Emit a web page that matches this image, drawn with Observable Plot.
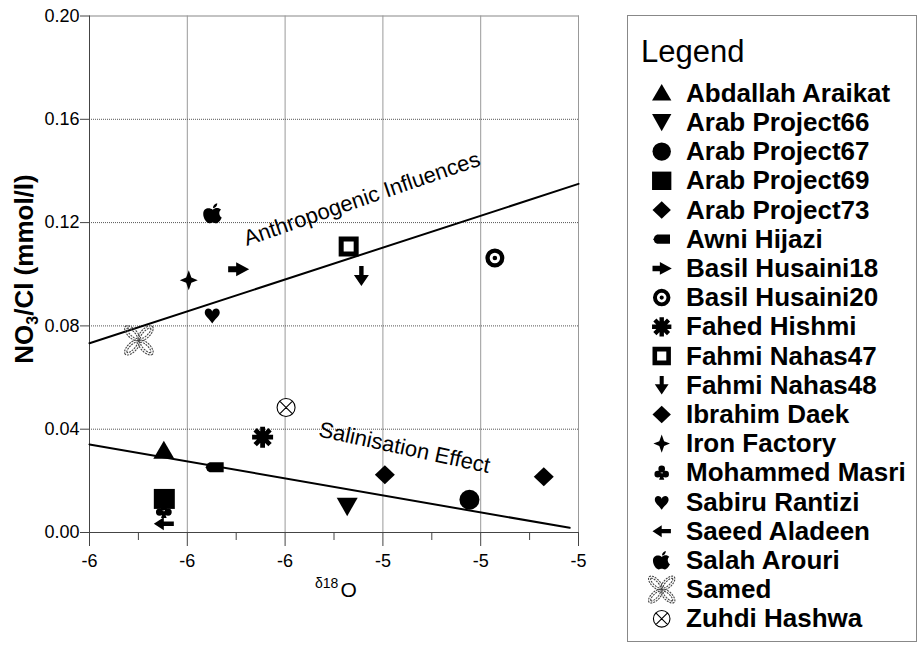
<!DOCTYPE html>
<html>
<head>
<meta charset="utf-8">
<script src="https://cdn.jsdelivr.net/npm/d3@7"></script>
<script src="https://cdn.jsdelivr.net/npm/@observablehq/plot@0.6"></script>
<style>
  body { margin: 0; background: #fff; font-family: "Liberation Sans", Arial, sans-serif; }
  #wrap { position: relative; width: 919px; height: 645px; background: #fff; }
  #chart, #legend { position: absolute; left: 0; top: 0; }
</style>
</head>
<body>
<div id="wrap"><div id="chart"></div><svg id="legend" width="919" height="645"></svg></div>
<script>
// Sampled wells
const wells = [
  "Abdallah Araikat", "Arab Project66", "Arab Project67", "Arab Project69", "Arab Project73",
  "Awni Hijazi", "Basil Husaini18", "Basil Husaini20", "Fahed Hishmi", "Fahmi Nahas47",
  "Fahmi Nahas48", "Ibrahim Daek", "Iron Factory", "Mohammed Masri", "Sabiru Rantizi",
  "Saeed Aladeen", "Salah Arouri", "Samed", "Zuhdi Hashwa"
];
// δ18O (‰)
const delta18O = [
  -5.848, -5.473, -5.223, -5.847, -5.396,
  -5.744, -5.696, -5.171, -5.646, -5.470,
  -5.444, -5.071, -5.797, -5.848, -5.749,
  -5.848, -5.748, -5.899, -5.598
];
// NO3/Cl (mmol/l)
const no3Cl = [
  0.0317, 0.0100, 0.0127, 0.0130, 0.0224,
  0.0253, 0.1019, 0.1063, 0.0369, 0.1107,
  0.0993, 0.0216, 0.0977, 0.0085, 0.0842,
  0.0034, 0.1235, 0.0744, 0.0484
];

// Trend lines
const trendNames = ["Anthropogenic Influences", "Salinisation Effect"];
const anthroX = [-6.0, -5.0];
const anthroY = [0.0733, 0.1350];
const salinX = [-6.0, -5.018];
const salinY = [0.0341, 0.0018];
// label anchors along each trend line
const trendLabelX = [-5.443, -5.356];
const trendLabelY = [0.1292, 0.0328];

// Axis ticks
const xMajorTicks = [-6.0, -5.8, -5.6, -5.4, -5.2, -5.0];
const xMinorTicks = [-5.9, -5.7, -5.5, -5.3, -5.1];
const yTicks = [0, 0.04, 0.08, 0.12, 0.16, 0.20];

// ---- marker shapes (drawn in a 10-unit box, scaled by the symbol size) ----
function sym(fn) {
  return { draw(ctx, size) { const k = Math.sqrt(size / Math.PI) / 10; fn(ctx, k); } };
}
function polygon(c, k, pts) {
  c.moveTo(pts[0][0] * k, pts[0][1] * k);
  for (let i = 1; i < pts.length; ++i) c.lineTo(pts[i][0] * k, pts[i][1] * k);
  c.closePath();
}
function ring(c, k, cx, cy, r, ccw = false) {
  c.moveTo((cx + r) * k, cy * k);
  c.arc(cx * k, cy * k, r * k, 0, 2 * Math.PI, ccw);
}
function pen(c, k) {
  return {
    M: (x, y) => c.moveTo(x * k, y * k),
    C: (a, b, d, e, f, g) => c.bezierCurveTo(a * k, b * k, d * k, e * k, f * k, g * k),
    Z: () => c.closePath()
  };
}
function ellipsePts(cx, cy, a, b, phi, n = 28) {
  const pts = [];
  for (let i = 0; i < n; ++i) {
    const t = (i / n) * 2 * Math.PI;
    pts.push([
      cx + a * Math.cos(t) * Math.cos(phi) - b * Math.sin(t) * Math.sin(phi),
      cy + a * Math.cos(t) * Math.sin(phi) + b * Math.sin(t) * Math.cos(phi)
    ]);
  }
  return pts;
}

const shapes = {
  triangleUp: sym((c, k) => polygon(c, k, [[0, -10], [10.5, 8], [-10.5, 8]])),
  triangleDown: sym((c, k) => polygon(c, k, [[-10.5, -9], [10.5, -9], [0, 9.5]])),
  disc: sym((c, k) => ring(c, k, 0, 0, 10)),
  square: sym((c, k) => polygon(c, k, [[-10.5, -10], [10.5, -10], [10.5, 10], [-10.5, 10]])),
  diamond: sym((c, k) => polygon(c, k, [[0, -9.5], [10, 0], [0, 9.5], [-10, 0]])),
  tag: sym((c, k) => polygon(c, k, [[-9, 0], [-7.5, -3.5], [-5, -5], [9, -5], [9, 5], [-5, 5], [-7.5, 3.5]])),
  arrowRight: sym((c, k) => polygon(c, k, [[-10, -3], [-2, -3], [-2, -7], [11, 0], [-2, 7], [-2, 3], [-10, 3]])),
  arrowLeft: sym((c, k) => polygon(c, k, [[10, -2.3], [0, -2.3], [0, -6.5], [-10, 0], [0, 6.5], [0, 2.3], [10, 2.3]])),
  arrowDown: sym((c, k) => polygon(c, k, [[-2.2, -10], [2.2, -10], [2.2, -1], [7.5, -1], [0, 10], [-7.5, -1], [-2.2, -1]])),
  bullseye: sym((c, k) => { ring(c, k, 0, 0, 9.5); ring(c, k, 0, 0, 5.2, true); ring(c, k, 0, 0, 2.3); }),
  asterisk: sym((c, k) => {
    for (const deg of [0, 45, 90, 135]) {
      const t = deg * Math.PI / 180, cs = Math.cos(t), sn = Math.sin(t);
      polygon(c, k, [[-10.5, -2.4], [10.5, -2.4], [10.5, 2.4], [-10.5, 2.4]]
        .map(([x, y]) => [x * cs - y * sn, x * sn + y * cs]));
    }
  }),
  openSquare: sym((c, k) => {
    polygon(c, k, [[-10, -10], [10, -10], [10, 10], [-10, 10]]);
    polygon(c, k, [[-5, -5], [-5, 5], [5, 5], [5, -5]]);
  }),
  star4: sym((c, k) => polygon(c, k, [[0, -10], [2.6, -2.6], [9, 0], [2.6, 2.6], [0, 10], [-2.6, 2.6], [-9, 0], [-2.6, -2.6]])),
  club: sym((c, k) => {
    ring(c, k, 0, -4.2, 3.6); ring(c, k, -4.3, 1.5, 3.6); ring(c, k, 4.3, 1.5, 3.6);
    polygon(c, k, [[0, -1], [2.8, 7.5], [-2.8, 7.5]]);
  }),
  heart: sym((c, k) => {
    const p = pen(c, k);
    p.M(0, -3.5);
    p.C(-1, -7.5, -7.5, -8, -7.5, -2.5);
    p.C(-7.5, 1.5, -2.5, 4, 0, 8.5);
    p.C(2.5, 4, 7.5, 1.5, 7.5, -2.5);
    p.C(7.5, -8, 1, -7.5, 0, -3.5);
    p.Z();
  }),
  apple: sym((c, k) => {
    const p = pen(c, k);
    p.M(0, -3.8);
    p.C(-2.5, -6, -9.5, -6.5, -9.5, 0.5);
    p.C(-9.5, 5, -6, 9.8, -3.5, 9.8);
    p.C(-2, 9.8, -1.2, 9, 0, 9);
    p.C(1.2, 9, 2, 9.8, 3.5, 9.8);
    p.C(5.8, 9.8, 8, 6.5, 9, 4);
    p.C(6.5, 3, 5.5, -2.5, 8.3, -3.8);
    p.C(6.5, -6, 2.5, -6.3, 0, -3.8);
    p.Z();
    p.M(0.3, -5.2);
    p.C(0.2, -8, 2.5, -10, 4.5, -10.2);
    p.C(4.6, -7.5, 2.5, -5.3, 0.3, -5.2);
    p.Z();
  }),
  butterfly: sym((c, k) => {
    for (const [sx, sy] of [[-1, -1], [1, -1], [-1, 1], [1, 1]]) {
      const phi = Math.atan2(sy, sx);
      polygon(c, k, ellipsePts(sx * 6.8, sy * 7.1, 9.6, 4.6, phi));
      polygon(c, k, ellipsePts(sx * 6.8, sy * 7.1, 7.0, 2.3, phi));
    }
  }),
  circleCross: sym((c, k) => {
    ring(c, k, 0, 0, 9);
    c.moveTo(-6.4 * k, -6.4 * k); c.lineTo(6.4 * k, 6.4 * k);
    c.moveTo(6.4 * k, -6.4 * k); c.lineTo(-6.4 * k, 6.4 * k);
  })
};

// marker and paint for each well
const markerOf = {
  "Abdallah Araikat": "triangleUp", "Arab Project66": "triangleDown", "Arab Project67": "disc",
  "Arab Project69": "square", "Arab Project73": "diamond", "Awni Hijazi": "tag",
  "Basil Husaini18": "arrowRight", "Basil Husaini20": "bullseye", "Fahed Hishmi": "asterisk",
  "Fahmi Nahas47": "openSquare", "Fahmi Nahas48": "arrowDown", "Ibrahim Daek": "diamond",
  "Iron Factory": "star4", "Mohammed Masri": "club", "Sabiru Rantizi": "heart",
  "Saeed Aladeen": "arrowLeft", "Salah Arouri": "apple", "Samed": "butterfly",
  "Zuhdi Hashwa": "circleCross"
};
function paint(name) {
  if (name === "Samed") return { fill: "none", stroke: "#444", strokeWidth: 1.1, strokeDasharray: "2 1" };
  if (name === "Zuhdi Hashwa") return { fill: "white", stroke: "black", strokeWidth: 1.1 };
  return { fill: "black", stroke: "none" };
}

const idx = d3.range(wells.length);
const pointMarks = idx.map(i => Plot.dot([i], {
  x: j => delta18O[j],
  y: j => no3Cl[j],
  r: 10,
  symbol: shapes[markerOf[wells[i]]],
  ...paint(wells[i])
}));

const chart = Plot.plot({
  width: 600,
  height: 645,
  marginLeft: 89,
  marginRight: 22,
  marginTop: 15.5,
  marginBottom: 113,
  x: { domain: [-6, -5] },
  y: { domain: [0, 0.2] },
  style: { fontFamily: "Liberation Sans, Arial, sans-serif", fontSize: "18px", color: "black", background: "white", overflow: "visible" },
  marks: [
    Plot.frame({ stroke: "#888" }),
    Plot.gridX(xMajorTicks, { stroke: "#999", strokeOpacity: 1 }),
    Plot.gridY(yTicks.slice(1, -1), { stroke: "#555", strokeOpacity: 1, strokeDasharray: "1 1" }),
    Plot.ruleX([-6], { stroke: "#444" }),
    Plot.ruleY([0], { stroke: "#444" }),
    Plot.axisY(yTicks, { tickSize: 9, tickPadding: 1, tickFormat: d3.format(".2f"), stroke: "#444", label: null }),
    Plot.axisX(xMajorTicks, { tickSize: 14, tickPadding: 8, tickFormat: d => String(Math.round(d)), stroke: "#444", label: null }),
    Plot.axisX(xMinorTicks, { tickSize: 8, fill: "none", stroke: "#444", label: null }),
    Plot.line(anthroX, { x: d => d, y: (d, i) => anthroY[i], stroke: "black", strokeWidth: 2 }),
    Plot.line(salinX, { x: d => d, y: (d, i) => salinY[i], stroke: "black", strokeWidth: 2 }),
    Plot.text([0], { x: i => trendLabelX[i], y: i => trendLabelY[i], text: i => trendNames[i], rotate: -19, fontSize: 22, textAnchor: "middle", lineAnchor: "middle", fill: "black" }),
    Plot.text([1], { x: i => trendLabelX[i], y: i => trendLabelY[i], text: i => trendNames[i], rotate: 12.2, fontSize: 22, textAnchor: "middle", lineAnchor: "middle", fill: "black" }),
    ...pointMarks
  ]
});
document.getElementById("chart").appendChild(chart);

// axis titles with sub/superscripts
const svg = d3.select(chart);
const yTitle = svg.append("text")
  .attr("transform", "translate(33,269) rotate(-90)")
  .attr("text-anchor", "middle")
  .attr("font-weight", "bold")
  .attr("font-size", 26)
  .attr("fill", "black");
yTitle.append("tspan").text("NO");
yTitle.append("tspan").attr("font-size", 16).attr("dy", 5).text("3");
yTitle.append("tspan").attr("dy", -5).text("/Cl (mmol/l)");

const xTitle = svg.append("text")
  .attr("x", 315).attr("y", 597)
  .attr("text-anchor", "start")
  .attr("font-size", 21)
  .attr("fill", "black");
xTitle.append("tspan").attr("font-size", 14).attr("dy", -9).text("δ18");
xTitle.append("tspan").attr("dy", 9).attr("dx", 2).text("O");

// legend panel
const lg = d3.select("#legend").style("font-family", "Liberation Sans, Arial, sans-serif");
lg.append("rect")
  .attr("x", 627.5).attr("y", 15.5).attr("width", 289).attr("height", 626)
  .attr("fill", "white").attr("stroke", "#888");
lg.append("text").attr("x", 641).attr("y", 62).attr("font-size", 31).attr("fill", "black").text("Legend");
wells.forEach((name, i) => {
  const base = 101.7 + 29.2 * i;
  const p = paint(name);
  lg.append("path")
    .attr("transform", `translate(661.7,${base - 8.5})`)
    .attr("d", d3.symbol(shapes[markerOf[name]], Math.PI * 9.2 * 9.2)())
    .attr("fill", p.fill)
    .attr("stroke", p.stroke)
    .attr("stroke-width", p.strokeWidth || null)
    .attr("stroke-dasharray", p.strokeDasharray || null);
  lg.append("text")
    .attr("x", 686).attr("y", base)
    .attr("font-size", 26).attr("font-weight", "bold").attr("fill", "black")
    .text(name);
});
</script>
</body>
</html>
